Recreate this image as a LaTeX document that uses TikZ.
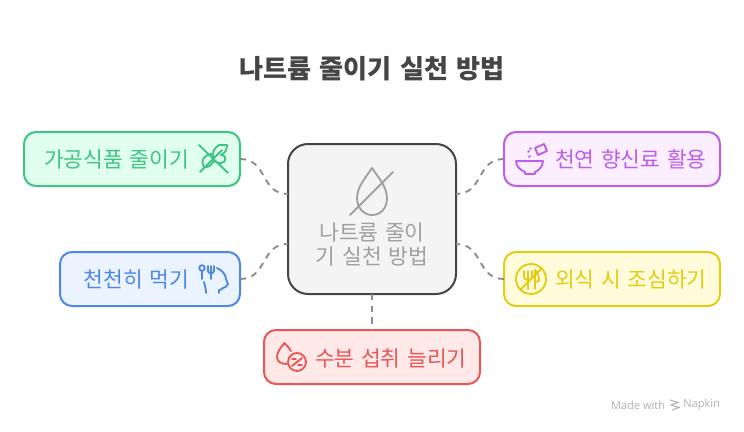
\documentclass[tikz,border=0pt]{standalone}
\usepackage{fontspec}
\setmainfont[WordSpace=1.4]{Noto Sans CJK KR}
\newfontfamily\madefont{Open Sans}
\definecolor{hubline}{HTML}{454545}
\definecolor{hubfill}{HTML}{F4F4F4}
\definecolor{hubtext}{HTML}{A0A0A0}
\definecolor{greenline}{HTML}{3CC583}
\definecolor{greenfill}{HTML}{E0FFEF}
\definecolor{blueline}{HTML}{4E88E7}
\definecolor{bluefill}{HTML}{EBF3FF}
\definecolor{purpleline}{HTML}{BE5EE8}
\definecolor{purplefill}{HTML}{FAEEFF}
\definecolor{yellowline}{HTML}{E2CD12}
\definecolor{yellowfill}{HTML}{FFFBDB}
\definecolor{redline}{HTML}{E85656}
\definecolor{redfill}{HTML}{FFE9E8}
\begin{document}
\begin{tikzpicture}
  [x=.75pt,y=-.75pt,
   every node/.style={inner sep=0pt,outer sep=0pt},
   box/.style={draw,rounded corners=9pt,line width=1.5pt,minimum width=162pt,minimum height=40.5pt},
   word/.style={font=\fontsize{16.1pt}{19pt}\selectfont},
   link/.style={draw=black!45,line width=1.4pt,dash pattern=on 4.7pt off 4.1pt},
   icon/.style={line width=1.4pt,line cap=round,line join=round}]

  \useasboundingbox (0,0) rectangle (744,432);

  \node (title) at (372,69) {\fontsize{19.6pt}{24pt}\selectfont\bfseries\color{hubline}나트륨 줄이기 실천 방법};

  \node[draw=hubline,fill=hubfill,line width=1.5pt,rounded corners=15pt,minimum width=126pt,minimum height=112.5pt] (hub) at (372,219) {};
  \node[box,draw=greenline,fill=greenfill] (food) at (132,159) {};
  \node[box,draw=blueline,fill=bluefill,minimum width=135pt] (slow) at (150,279) {};
  \node[box,draw=purpleline,fill=purplefill] (spice) at (612,159) {};
  \node[box,draw=yellowline,fill=yellowfill] (eatout) at (612,279) {};
  \node[box,draw=redline,fill=redfill] (water) at (372,357) {};

  \coordinate (hubA) at (288,194);
  \coordinate (hubB) at (288,244);
  \coordinate (hubC) at (456,194);
  \coordinate (hubD) at (456,244);

  \foreach \from/\to in {food/hubA,slow/hubB}
    \draw[link] (\from.east) to[out=0,in=180,looseness=1.2] (\to);
  \foreach \from/\to in {spice/hubC,eatout/hubD}
    \draw[link] (\from.west) to[out=180,in=0,looseness=1.2] (\to);
  \draw[link] (hub.south) -- (water.north);

  \node[align=center,text=hubtext,font=\fontsize{16.1pt}{18pt}\selectfont] (hubword) at (372,244) {나트륨 줄이\\기 실천 방법};
  \node[word,text=greenline,anchor=east] (foodword) at (189,159) {가공식품 줄이기};
  \node[word,text=blueline,anchor=east] (slowword) at (189,279) {천천히 먹기};
  \node[word,text=purpleline,anchor=west] (spiceword) at (555,159) {천연 향신료 활용};
  \node[word,text=yellowline,anchor=west] (eatoutword) at (555,279) {외식 시 조심하기};
  \node[word,text=redline,anchor=west] (waterword) at (315,358) {수분 섭취 늘리기};

  % hub icon
  \draw[icon,hubtext] (372,168) .. controls (366,177) and (357,187) .. (357,198)
    .. controls (357,208) and (364,215) .. (372,215) .. controls (381,215) and (387,208) .. (387,198)
    .. controls (387,187) and (378,177) .. (372,168);
  \draw[icon,hubtext] (350,215) -- (393,172);

  % leaf
  \draw[icon,greenline] (199,145) -- (228,173);
  \draw[icon,greenline] (200,172) -- (222,150);
  \draw[icon,greenline] (204,167) .. controls (200,160) and (204,155) .. (212,154) .. controls (216,160) and (212,168) .. (204,167);
  \draw[icon,greenline] (213,154) .. controls (213,150) and (216,147) .. (219,145);
  \draw[icon,greenline] (219,145) -- (227,145) .. controls (227,150) and (225,153) .. (221,155);
  \draw[icon,greenline] (221,155) .. controls (226,155) and (226,160) .. (224,162) .. controls (220,164) and (216,163) .. (214,161);

  % head, spoon and fork
  \draw[icon,blueline] (202,268) circle (2.8);
  \draw[icon,blueline] (202,271) -- (202,279);
  \draw[icon,blueline] (208,266) -- (208,271) .. controls (208,274) and (214,274) .. (214,271) -- (214,266);
  \draw[icon,blueline] (211,266) -- (211,279);
  \draw[icon,blueline] (217,268) .. controls (222,270) and (226,275) .. (226,279) -- (228,284)
    .. controls (227,287) and (225,287) .. (223,288) .. controls (223,290) and (220,289) .. (219,290) -- (219,293);
  \draw[icon,blueline] (204,282) .. controls (205,286) and (206,289) .. (206,293);

  % bowl
  \draw[icon,purpleline] (516,161) -- (543,161) .. controls (543,167) and (538,171) .. (535,172)
    -- (535,174) -- (525,174) -- (525,172) .. controls (521,170) and (516,167) .. (516,161);
  \draw[icon,purpleline] (535,148) -- (544,144) -- (547,151) -- (538,155) -- cycle;
  \draw[icon,purpleline] (528,152) -- (529,151);
  \draw[icon,purpleline] (530,149) -- (531,148);
  \draw[icon,purpleline] (529,157) -- (530,156);

  % crossed cutlery
  \draw[icon,yellowline] (531,279) circle (15);
  \draw[icon,yellowline] (520,290) -- (542,268);
  \draw[icon,yellowline] (524,271) -- (524,277) .. controls (524,281) and (532,281) .. (532,277) -- (532,271);
  \draw[icon,yellowline] (528,271) -- (528,289);
  \draw[icon,yellowline] (535,289) -- (535,270) .. controls (538,272) and (539,278) .. (539,281) -- (535,282);

  % drop with percent
  \draw[icon,redline] (291,351) .. controls (289,348) and (287,345) .. (284.5,343)
    .. controls (281,347) and (277,352) .. (277,357) .. controls (277,361) and (280,364) .. (287,364);
  \draw[icon,redline] (297,362) circle (9);
  \draw[icon,redline] (292,366) -- (302,358);
  \draw[icon,redline] (292,359) -- (296,359);
  \draw[icon,redline] (298,365) -- (302,365);

  \node[text=black!30,anchor=west,font=\madefont\fontsize{8.3pt}{10pt}\selectfont] (made) at (611,405) {Made with};
  \node[text=black!30,anchor=east,font=\madefont\fontsize{8.3pt}{10pt}\selectfont] (napkin) at (720,405) {Napkin};
  \draw[black!30,line width=.8pt] (670,400) -- (678,402.5) -- (671,405) -- (679,407.5) -- (672,410);
\end{tikzpicture}
\end{document}
